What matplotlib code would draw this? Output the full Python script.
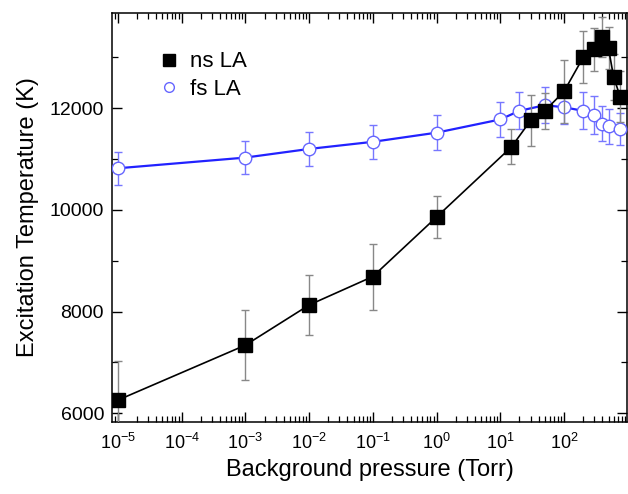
import numpy as np
import matplotlib
matplotlib.use("Agg")
import matplotlib.pyplot as plt
from matplotlib.ticker import LogLocator, MultipleLocator, FixedLocator

plt.rcParams['font.family'] = ['Liberation Sans', 'DejaVu Sans']
plt.rcParams['mathtext.fontset'] = 'custom'
plt.rcParams['mathtext.rm'] = 'Liberation Sans'
plt.rcParams['mathtext.it'] = 'Liberation Sans'
plt.rcParams['mathtext.default'] = 'regular'

# ns laser ablation
ns_p = [1e-5, 1e-3, 1e-2, 1e-1, 1, 15, 30, 50, 100, 200, 300, 400, 500, 600, 760]
ns_T = [6260, 7340, 8130, 8690, 9860, 11240, 11760, 11950, 12330, 13000, 13160, 13400, 13180, 12620, 12230]
ns_err = [770, 690, 590, 650, 420, 345, 500, 360, 620, 510, 420, 390, 410, 450, 500]

# fs laser ablation
fs_p = [1e-5, 1e-3, 1e-2, 1e-1, 1, 10, 20, 50, 100, 200, 300, 400, 500, 760]
fs_T = [10820, 11030, 11200, 11340, 11520, 11780, 11950, 12060, 12020, 11950, 11870, 11700, 11650, 11590]
fs_err = [320, 330, 330, 330, 340, 350, 365, 350, 330, 365, 370, 350, 345, 320]

x_major = [1e-5, 1e-4, 1e-3, 1e-2, 1e-1, 1, 10, 100]

fig = plt.figure(figsize=(6.28, 4.94), dpi=100)
ax = fig.add_axes([0.179, 0.1457, 0.819, 0.828])

ax.errorbar(fs_p, fs_T, yerr=fs_err, fmt='none', ecolor='#7777ff', elinewidth=1.0,
            capsize=3, capthick=1.0, zorder=2)
ax.plot(fs_p, fs_T, '-', color='#2222ff', lw=1.6, zorder=3)
ax.plot(fs_p, fs_T, 'o', ms=9, mfc='white', mec='#6666ff', mew=1.0, zorder=4)

ax.errorbar(ns_p, ns_T, yerr=ns_err, fmt='none', ecolor='#888888', elinewidth=1.0,
            capsize=3, capthick=1.0, zorder=5)
ax.plot(ns_p, ns_T, '-', color='black', lw=1.2, zorder=6)
ax.plot(ns_p, ns_T, 's', ms=10, color='black', zorder=7)

# legend handles (markers only)
h1, = ax.plot([], [], 's', ms=9, color='black', label='ns LA')
h2, = ax.plot([], [], 'o', ms=7, mfc='white', mec='#6666ff', mew=1.0, label='fs LA')
ax.legend(handles=[h1, h2], loc='upper left', bbox_to_anchor=(0.045, 0.955), frameon=False,
          fontsize=16, handletextpad=0.35, labelspacing=0.3, handlelength=1.2)

ax.set_xscale('log')
ax.set_xlim(10 ** -5.086, 10 ** 2.985)
ax.set_ylim(5829, 13874)
ax.xaxis.set_major_locator(FixedLocator(x_major))
ax.xaxis.set_minor_locator(LogLocator(base=10, subs=np.arange(2, 10), numticks=20))
ax.yaxis.set_major_locator(MultipleLocator(2000))
ax.yaxis.set_minor_locator(MultipleLocator(1000))

ax.tick_params(which='both', direction='in', top=True, right=True)
ax.tick_params(axis='y', labelsize=14, pad=6)
ax.tick_params(axis='x', labelsize=13, pad=8)
ax.tick_params(which='major', length=7, width=1.0)
ax.tick_params(which='minor', length=4, width=0.9)

for s in ax.spines.values():
    s.set_linewidth(1.1)

ax.set_xlabel('Background pressure (Torr)', fontsize=17, labelpad=4)
ax.set_ylabel('Excitation Temperature (K)', fontsize=17, labelpad=8)

fig.savefig('out.png', dpi=100)
